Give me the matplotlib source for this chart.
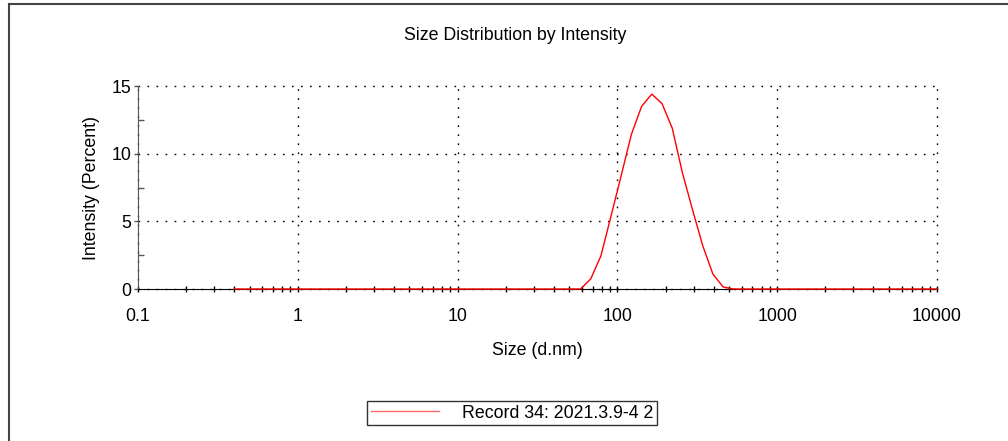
import matplotlib
matplotlib.use("Agg")
import matplotlib.pyplot as plt
from matplotlib.ticker import LogLocator, NullFormatter, FixedLocator
from matplotlib.lines import Line2D

plt.rcParams['font.family'] = ['Liberation Sans', 'DejaVu Sans']

sizes = [0.4, 0.4632, 0.5365, 0.6213, 0.7195, 0.8332, 0.9649, 1.117, 1.294, 1.499,
         1.736, 2.01, 2.328, 2.696, 3.122, 3.615, 4.187, 4.849, 5.615, 6.503,
         7.531, 8.721, 10.1, 11.7, 13.54, 15.69, 18.17, 21.04, 24.36, 28.21,
         32.67, 37.84, 43.82, 50.75, 58.77, 68.06, 78.82, 91.28, 105.7, 122.4,
         141.8, 164.2, 190.1, 220.2, 255.0, 295.3, 342.0, 396.1, 458.7, 531.2,
         615.1, 712.4, 825.0, 955.4, 1106, 1281, 1484, 1718, 1990, 2305,
         2669, 3091, 3580, 4145, 4801, 5560, 6439, 7456, 8635, 10000]
peak = {68.06: 0.74, 78.82: 2.44, 91.28: 5.4, 105.7: 8.4, 122.4: 11.43,
        141.8: 13.5, 164.2: 14.4, 190.1: 13.7, 220.2: 11.9, 255.0: 8.6,
        295.3: 5.85, 342.0: 3.2, 396.1: 1.1, 458.7: 0.15}
intensity = [peak.get(s, 0.0) for s in sizes]

x_ticks = [0.1, 1, 10, 100, 1000, 10000]
x_tick_labels = ["0.1", "1", "10", "100", "1000", "10000"]
y_ticks = [0, 5, 10, 15]
y_minor = [2.5, 7.5, 12.5]
legend_label = "Record 34: 2021.3.9-4 2"

FS = 12.8
W, H = 1008, 441
fig = plt.figure(figsize=(W / 100, H / 100), dpi=100)
ax = fig.add_axes([138 / W, 1 - 289 / H, 799 / W, 203 / H])

line, = ax.plot(sizes, intensity, color='#ff0000', lw=1.0, zorder=5, clip_on=False)

ax.set_xscale('log')
ax.set_xlim(0.1, 10000)
ax.set_ylim(0, 15)
ax.set_xticks(x_ticks)
ax.set_xticklabels(x_tick_labels)
ax.xaxis.set_minor_locator(LogLocator(base=10, subs=range(2, 10), numticks=20))
ax.xaxis.set_minor_formatter(NullFormatter())
ax.set_yticks(y_ticks)
ax.yaxis.set_minor_locator(FixedLocator(y_minor))

ax.grid(True, which='major', color='black', linestyle=(0, (1.2, 5.3)), linewidth=1.0)
for gl in ax.get_xgridlines() + ax.get_ygridlines():
    gl.set_clip_on(False)

for s in ['top', 'right']:
    ax.spines[s].set_visible(False)
ax.spines['left'].set_color('#555555')
ax.spines['bottom'].set_color('black')

ax.tick_params(axis='x', which='both', direction='inout', length=5, width=1,
               color='black', labelsize=FS, pad=11.5)
ax.tick_params(axis='y', which='major', direction='out', length=3, width=1,
               color='#555555', labelsize=FS, pad=2)
ax.tick_params(axis='y', which='minor', direction='in', length=4, width=1,
               color='#555555')

ax.set_xlabel("Size (d.nm)", fontsize=FS, labelpad=12)
ax.set_ylabel("Intensity (Percent)", fontsize=FS, labelpad=8)
fig.text(515 / W, 1 - 35 / H, "Size Distribution by Intensity", ha='center',
         va='center', fontsize=FS)

leg = fig.legend([line], [legend_label], loc='center',
                 bbox_to_anchor=(512 / W, 1 - 413 / H), fontsize=FS,
                 handlelength=3.8, handletextpad=1.3, borderpad=0.2,
                 fancybox=False, frameon=True)
leg.get_frame().set_edgecolor('black')
leg.get_frame().set_linewidth(1.0)
leg.get_lines()[0].set_color('#ff6666')

# outer frame (cropped)
fig.add_artist(Line2D([8.5 / W, 1], [1 - 4 / H, 1 - 4 / H], color='#444444', lw=1.5,
                      transform=fig.transFigure))
fig.add_artist(Line2D([8.5 / W, 8.5 / W], [0, 1 - 4 / H], color='#444444', lw=1.5,
                      transform=fig.transFigure))

fig.savefig("out.png", dpi=100)
